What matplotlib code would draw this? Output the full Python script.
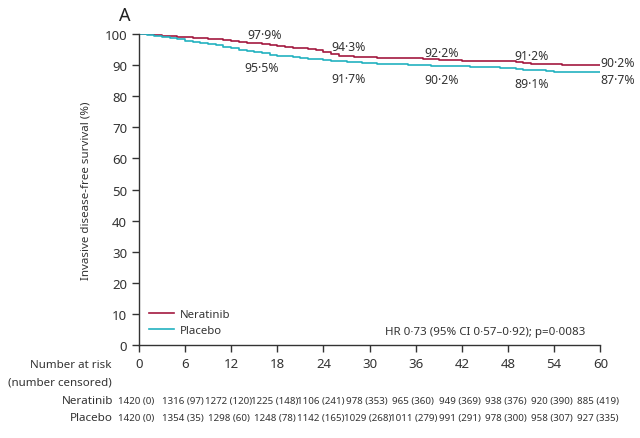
import matplotlib
matplotlib.use("Agg")
import matplotlib.pyplot as plt

plt.rcParams['font.family'] = ['Noto Sans', 'DejaVu Sans']

# ---- data ----
months = list(range(0, 61))
surv_ner = [100, 99.9, 99.6, 99.5, 99.4, 99.2, 99.1, 98.9, 98.7, 98.5, 98.3, 98.1, 97.9,
            97.6, 97.3, 97.0, 96.7, 96.5, 96.2, 95.9, 95.6, 95.4, 95.1, 94.8, 94.3, 93.6,
            93.0, 92.8, 92.6, 92.6, 92.5, 92.4, 92.4, 92.3, 92.3, 92.2, 92.2, 92.0, 91.9,
            91.8, 91.7, 91.6, 91.5, 91.5, 91.4, 91.3, 91.3, 91.2, 91.2, 90.9, 90.7, 90.5,
            90.4, 90.3, 90.3, 90.2, 90.2, 90.2, 90.2, 90.2, 90.2]
surv_pla = [100, 99.8, 99.5, 99.0, 98.6, 98.3, 97.9, 97.6, 97.2, 96.8, 96.4, 95.9, 95.5,
            95.0, 94.6, 94.2, 93.8, 93.4, 93.0, 92.8, 92.6, 92.3, 92.1, 91.9, 91.7, 91.5,
            91.3, 91.1, 91.0, 90.8, 90.7, 90.5, 90.4, 90.3, 90.3, 90.2, 90.2, 90.0, 89.9,
            89.8, 89.7, 89.7, 89.6, 89.5, 89.5, 89.4, 89.3, 89.2, 89.1, 88.9, 88.6, 88.5,
            88.3, 88.0, 87.7, 87.7, 87.7, 87.7, 87.7, 87.7, 87.7]

label_ner = ["97·9%", "94·3%", "92·2%", "91·2%", "90·2%"]
label_pla = ["95·5%", "91·7%", "90·2%", "89·1%", "87·7%"]

risk_months = [0, 6, 12, 18, 24, 30, 36, 42, 48, 54, 60]
risk_ner = ["1420 (0)", "1316 (97)", "1272 (120)", "1225 (148)", "1106 (241)", "978 (353)",
            "965 (360)", "949 (369)", "938 (376)", "920 (390)", "885 (419)"]
risk_pla = ["1420 (0)", "1354 (35)", "1298 (60)", "1248 (78)", "1142 (165)", "1029 (268)",
            "1011 (279)", "991 (291)", "978 (300)", "958 (307)", "927 (335)"]

c_ner = '#a3193f'
c_pla = '#22b2c0'
tc = '#333333'

fig = plt.figure(figsize=(6.4, 4.39), dpi=100)
ax = fig.add_axes([0.217, 0.212, 0.721, 0.708])

ax.step(months, surv_ner, where='post', color=c_ner, lw=1.2, label='Neratinib')
ax.step(months, surv_pla, where='post', color=c_pla, lw=1.2, label='Placebo')

ax.set_xlim(0, 60)
ax.set_ylim(0, 100)
ax.set_xticks(risk_months)
ax.set_yticks(range(0, 101, 10))
for s in ['top', 'right']:
    ax.spines[s].set_visible(False)
for s in ['left', 'bottom']:
    ax.spines[s].set_color('#333333')
    ax.spines[s].set_linewidth(1.0)
ax.tick_params(axis='both', colors='#333333', labelcolor=tc, labelsize=9.5, length=5, width=1.0)
ax.set_ylabel('Invasive disease-free survival (%)', fontsize=8.3, color=tc, labelpad=9)

# percentage annotations (positions in data coordinates)
pos_ner = [(16.4, 100.0), (27.3, 96.0), (39.4, 94.0), (51.1, 93.0), (62.3, 91.0)]
pos_pla = [(16.0, 89.2), (27.3, 85.8), (39.4, 85.3), (51.1, 84.1), (62.3, 85.5)]
for (x, y), t in zip(pos_ner, label_ner):
    ax.text(x, y, t, ha='center', va='center', fontsize=8.8, color=tc, clip_on=False)
for (x, y), t in zip(pos_pla, label_pla):
    ax.text(x, y, t, ha='center', va='center', fontsize=8.8, color=tc, clip_on=False)

leg = ax.legend(loc='lower left', bbox_to_anchor=(0.0, -0.005), frameon=False, fontsize=8.2,
                handlelength=2.2, labelspacing=0.45, handletextpad=0.5)
for t in leg.get_texts():
    t.set_color(tc)

ax.text(585 / 640, 1 - 332 / 439, 'HR 0·73 (95% CI 0·57–0·92); p=0·0083',
        transform=fig.transFigure, ha='right', va='center', fontsize=8.3, color=tc)

fig.text(119 / 640, 1 - 16 / 439, 'A', fontsize=13, color='#222222', ha='left', va='center')

# number at risk table
fig.text(112 / 640, 1 - 366 / 439, 'Number at risk', fontsize=8.3, fontweight='bold',
         color=tc, ha='right', va='center')
fig.text(112 / 640, 1 - 383 / 439, '(number censored)', fontsize=8.3, fontweight='bold',
         color=tc, ha='right', va='center')
fig.text(113 / 640, 1 - 402 / 439, 'Neratinib', fontsize=8.4, color=tc, ha='right', va='center')
fig.text(113 / 640, 1 - 419 / 439, 'Placebo', fontsize=8.4, color=tc, ha='right', va='center')
trans = matplotlib.transforms.blended_transform_factory(ax.transData, fig.transFigure)
for m, a, b in zip(risk_months, risk_ner, risk_pla):
    ax.text(m - 0.3, 1 - 402 / 439, a, transform=trans, fontsize=7.0, color=tc,
            ha='center', va='center', clip_on=False)
    ax.text(m - 0.3, 1 - 419 / 439, b, transform=trans, fontsize=7.0, color=tc,
            ha='center', va='center', clip_on=False)

fig.savefig('out.png', dpi=100)
